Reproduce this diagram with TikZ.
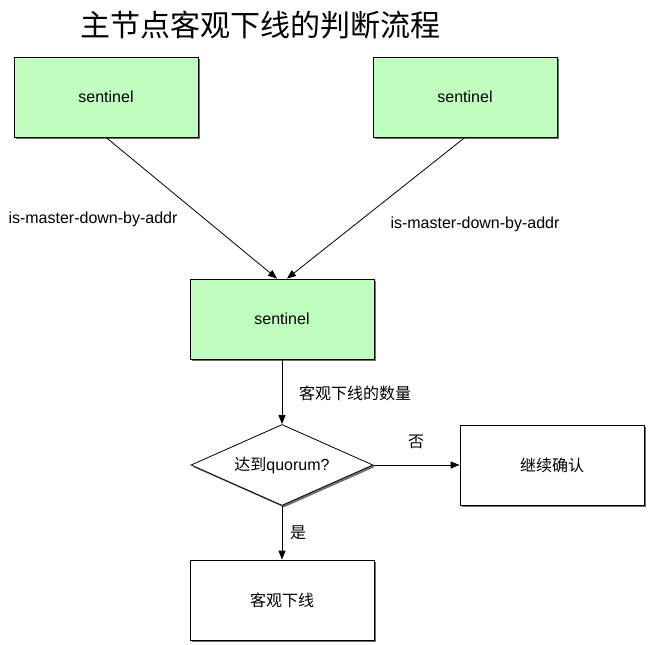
\documentclass[tikz,border=0pt]{standalone}
\usepackage{fontspec}
\setmainfont{Liberation Sans}
\newfontfamily\cjk{Noto Sans CJK SC}
\usetikzlibrary{arrows.meta,shapes.geometric,shadows}
\begin{document}
\begin{tikzpicture}[x=1pt,y=-1pt,
  box/.style={draw=black,line width=0.8pt,minimum width=184pt,minimum height=80pt,inner sep=0pt,
    drop shadow={shadow xshift=2pt,shadow yshift=-2pt,fill=black!70,opacity=0.8},font=\fontsize{16}{18}\selectfont},
  green/.style={box,fill=sentgreen},
  white/.style={box,fill=white},
  lbl/.style={font=\fontsize{16}{18}\selectfont,inner sep=0pt},
  clbl/.style={font=\fontsize{16}{18}\selectfont\cjk,inner sep=0pt},
  arr/.style={draw=black,line width=0.8pt,-{Triangle[length=9pt,width=7pt]}}]
\definecolor{sentgreen}{HTML}{C0FFC0}
\useasboundingbox (0,0) rectangle (648,645);
\fill[white] (-3,-3) rectangle (651,648);
\node[font=\fontsize{30}{34}\selectfont\cjk,anchor=west,inner sep=0pt] (title) at (80,25) {主节点客观下线的判断流程};
\node[green] (s1) at (106,97) {sentinel};
\node[green] (s2) at (465,97) {sentinel};
\node[green] (s3) at (282,319) {sentinel};
\node[diamond,draw=black,line width=0.8pt,fill=white,minimum width=182pt,minimum height=81pt,aspect=2.25,inner sep=0pt,
  drop shadow={shadow xshift=2pt,shadow yshift=-2pt,fill=black!70,opacity=0.8},font=\fontsize{16}{18}\selectfont] (q) at (282,465) {{\cjk 达到}quorum?};
\node[white] (c) at (552,465) {\cjk 继续确认};
\node[white] (d) at (282,600) {\cjk 客观下线};
\coordinate (s3a) at ([xshift=-5pt]s3.north);
\coordinate (s3b) at ([xshift=5pt]s3.north);
\draw[arr] (s1.south) -- (s3a);
\draw[arr] (s2.south) -- (s3b);
\draw[arr] (s3.south) -- (q.north);
\draw[arr] (q.east) -- (c.west);
\draw[arr] (q.south) -- (d.north);
\node[lbl] (l1) at (93,219) {is-master-down-by-addr};
\node[lbl] (l2) at (475,224) {is-master-down-by-addr};
\node[clbl] (l3) at (355,393) {客观下线的数量};
\node[clbl] (l4) at (416,442) {否};
\node[clbl] (l5) at (298,533) {是};
\end{tikzpicture}
\end{document}
